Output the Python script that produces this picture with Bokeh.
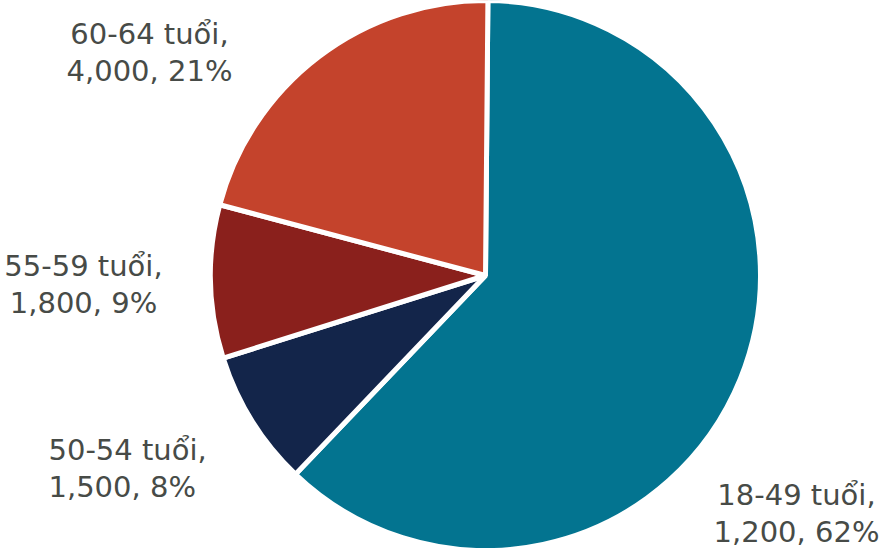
import numpy as np
from bokeh.plotting import figure
from bokeh.models import Range1d, ColumnDataSource
from bokeh.core.properties import value
from bokeh.embed import file_html
from bokeh.resources import INLINE

# ---- data ----
categories = ["18-49 tuổi", "50-54 tuổi", "55-59 tuổi", "60-64 tuổi"]
counts = [1200, 1500, 1800, 4000]
percents = [62, 8, 9, 21]
colors = ["#037490", "#13254A", "#8A201C", "#C4432C"]

# ---- layout ----
W, H = 881, 548
CX, CY_IMG, R = 485, 275, 275
START_OFFSET_DEG = 0.5
FONT = "DejaVu Sans"
FONT_SIZE = "29px"
TEXT_COLOR = "#474B47"
LINE_GAP = 37
label_x = [796, 48, 83, 149]
label_align = ["center", "left", "center", "center"]
label_base_img = [494, 449, 265, 33]

p = figure(width=W, height=H, x_range=Range1d(0, W), y_range=Range1d(0, H),
           output_backend="svg", toolbar_location=None, min_border=0,
           outline_line_color=None)
p.axis.visible = False
p.grid.visible = False
p.background_fill_color = "white"
p.border_fill_color = "white"

frac = np.array(percents, dtype=float) / sum(percents)
start_math = np.pi / 2 - np.deg2rad(START_OFFSET_DEG)
cum = np.concatenate([[0], np.cumsum(frac)]) * 2 * np.pi
starts = start_math - cum[:-1]
ends = start_math - cum[1:]

src = ColumnDataSource(dict(start=starts, end=ends, color=colors,
                            cat=categories))
p.wedge(x=CX, y=H - CY_IMG, radius=R, start_angle="start", end_angle="end",
        direction="clock", fill_color="color", line_color="white",
        line_width=5, source=src)

for i, cat in enumerate(categories):
    l1 = f"{cat},"
    l2 = f"{counts[i]:,}, {percents[i]}%"
    y1 = H - label_base_img[i]
    p.text(x=[label_x[i]], y=[y1], text=[l1], text_align=label_align[i],
           text_baseline="alphabetic", text_font=value(FONT),
           text_font_size=FONT_SIZE, text_color=TEXT_COLOR)
    p.text(x=[label_x[i]], y=[y1 - LINE_GAP], text=[l2], text_align=label_align[i],
           text_baseline="alphabetic", text_font=value(FONT),
           text_font_size=FONT_SIZE, text_color=TEXT_COLOR)

open("out.html", "w").write(file_html(p, INLINE))
